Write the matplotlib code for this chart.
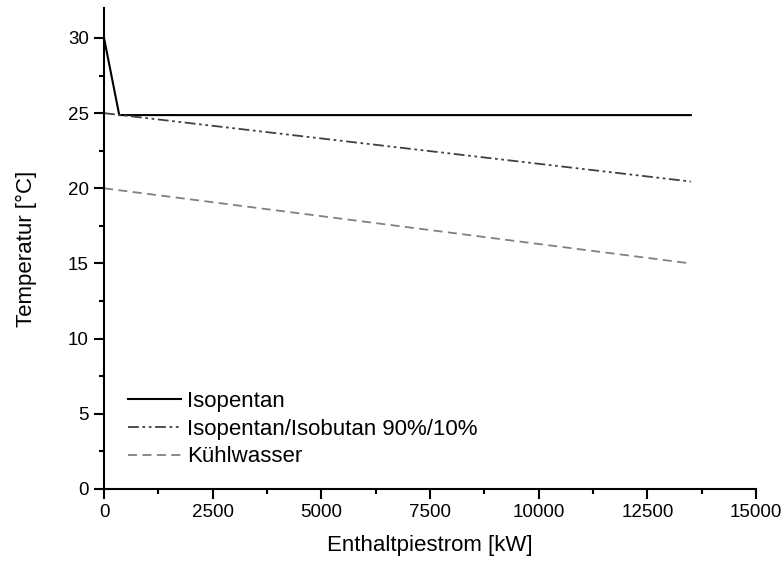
"""
Temperaturverlauf ueber dem Enthalpiestrom
"""

import numpy as np
from matplotlib import pyplot as plt
from matplotlib.ticker import MultipleLocator

plt.rcParams['font.family'] = ['Liberation Sans', 'DejaVu Sans']

# Isopentan: Abkuehlung, dann Kondensation
iso_x = [0, 350, 13500]
iso_T = [30.0, 24.87, 24.87]

# Gemisch Isopentan/Isobutan 90%/10%
mix_x = [0, 13500]
mix_T = [25.0, 20.45]

# Kuehlwasser
kw_x = [0, 13500]
kw_T = [20.0, 15.0]

fig = plt.figure(figsize=(7.84, 5.64), dpi=100)
ax = fig.add_axes([0.1327, 0.133, 0.8316, 0.853])

ax.plot(iso_x, iso_T, color='black', lw=1.5, label='Isopentan')
ax.plot(mix_x, mix_T, color='#404040', lw=1.3, dashes=[6, 2, 1.5, 2, 1.5, 2],
        label='Isopentan/Isobutan 90%/10%')
ax.plot(kw_x, kw_T, color='#808080', lw=1.3, dashes=[5, 3], label='Kühlwasser')

ax.set_xlim(0, 15000)
ax.set_ylim(0, 32)
ax.xaxis.set_major_locator(MultipleLocator(2500))
ax.xaxis.set_minor_locator(MultipleLocator(1250))
ax.yaxis.set_major_locator(MultipleLocator(5))
ax.yaxis.set_minor_locator(MultipleLocator(2.5))
ax.tick_params(which='major', direction='out', length=7, width=1.5,
               labelsize=13.5, pad=4)
ax.tick_params(which='minor', direction='out', length=3.5, width=1.5)
for s in ['top', 'right']:
    ax.spines[s].set_visible(False)
for s in ['left', 'bottom']:
    ax.spines[s].set_linewidth(1.5)

ax.set_xlabel('Enthaltpiestrom [kW]', fontsize=16, labelpad=10)
ax.set_ylabel('Temperatur [°C]', fontsize=16, labelpad=22)

ax.legend(loc='lower left', frameon=False, fontsize=16, handlelength=2.4,
          handletextpad=0.25, labelspacing=0.3, borderpad=0, borderaxespad=0,
          bbox_to_anchor=(0.037, 0.045))

fig.savefig('out.png', dpi=100)
